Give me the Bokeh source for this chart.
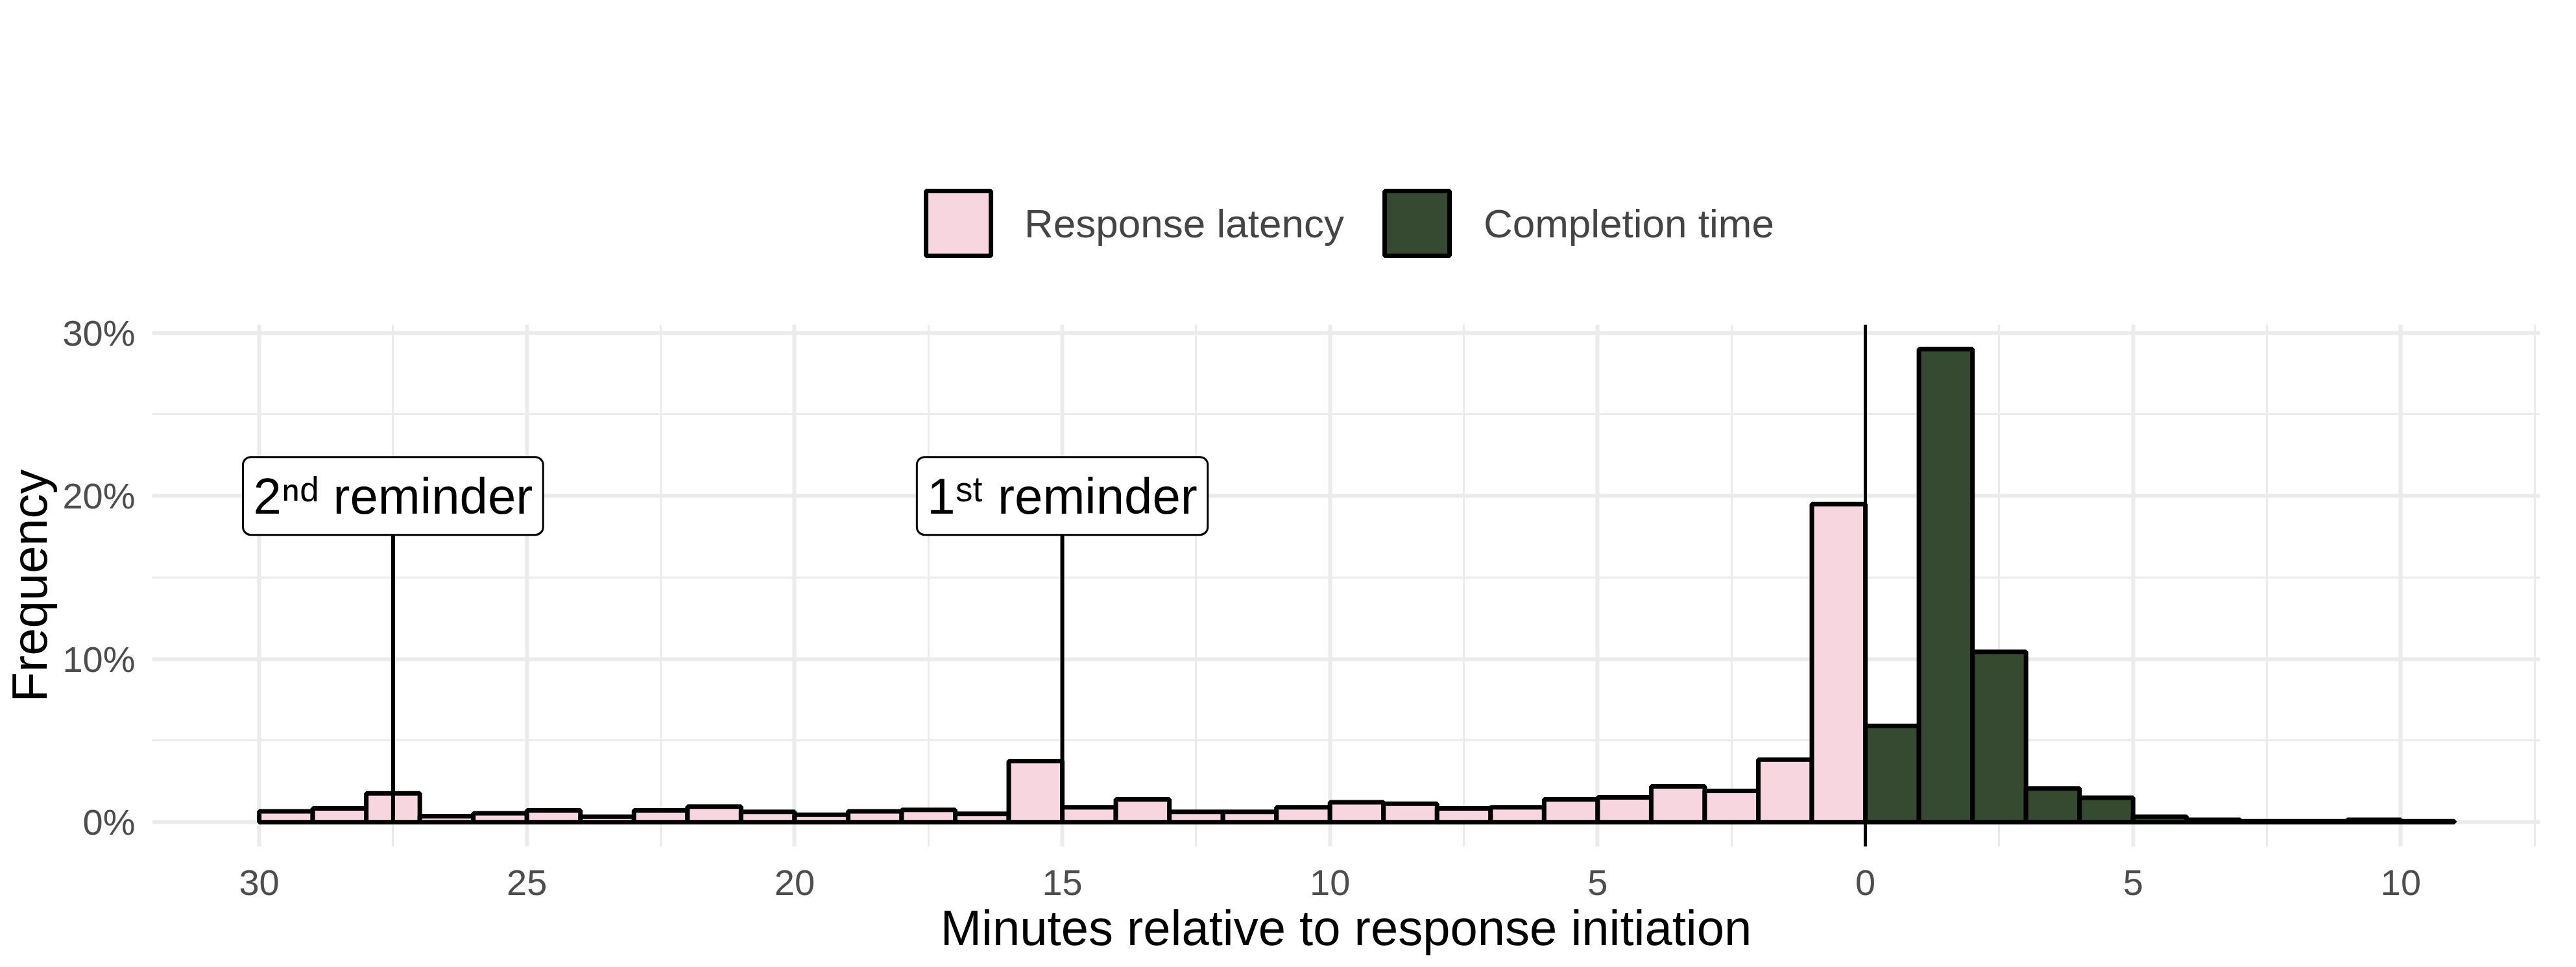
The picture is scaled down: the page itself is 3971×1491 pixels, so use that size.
from bokeh.plotting import figure
from bokeh.models import Legend, LegendItem, Span, Label, FixedTicker, ColumnDataSource
from bokeh.embed import file_html
from bokeh.resources import INLINE

# Response latency: minutes before initiation (bin left edges -30..-1)
lat_left = list(range(-30, 0))
lat_pct = [0.67, 0.85, 1.77, 0.37, 0.55, 0.73, 0.34, 0.73, 0.95, 0.64,
           0.46, 0.67, 0.76, 0.52, 3.75, 0.91, 1.4, 0.64, 0.64, 0.91,
           1.22, 1.13, 0.85, 0.91, 1.4, 1.52, 2.2, 1.92, 3.84, 19.5]
# Completion time: minutes after initiation (bin left edges 0..10)
comp_left = list(range(0, 11))
comp_pct = [5.9, 29.0, 10.45, 2.07, 1.5, 0.34, 0.15, 0.06, 0.06, 0.15, 0.06]

x_ticks = [-30, -25, -20, -15, -10, -5, 0, 5, 10]
x_tick_labels = ["30", "25", "20", "15", "10", "5", "0", "5", "10"]
x_minor = [-27.5, -22.5, -17.5, -12.5, -7.5, -2.5, 2.5, 7.5, 12.5]
y_ticks = [0, 10, 20, 30]
y_tick_labels = ["0%", "10%", "20%", "30%"]
reminders = [(-27.5, "2ⁿᵈ reminder"), (-15, "1ˢᵗ reminder")]

FONT = "Liberation Sans"
p = figure(width=3955, height=1475, output_backend="svg", toolbar_location=None,
           x_range=(-32.0, 12.6), y_range=(-1.5, 30.5),
           min_border_left=40, min_border_right=40, min_border_top=0, min_border_bottom=30)
p.outline_line_color = None
p.background_fill_color = "white"

src1 = ColumnDataSource(dict(l=lat_left, r=[v + 1 for v in lat_left], t=lat_pct))
src2 = ColumnDataSource(dict(l=comp_left, r=[v + 1 for v in comp_left], t=comp_pct))
r1 = p.quad(left="l", right="r", top="t", bottom=0, source=src1,
            fill_color="#f7d6df", line_color="black", line_width=7)
r2 = p.quad(left="l", right="r", top="t", bottom=0, source=src2,
            fill_color="#364a32", line_color="black", line_width=7)

p.add_layout(Span(location=0, dimension="height", line_color="black", line_width=5))

for x, txt in reminders:
    p.segment(x0=[x], y0=[0], x1=[x], y1=[19.5], line_color="black", line_width=6)
    p.add_layout(Label(x=x, y=20, text=txt, text_align="center", text_baseline="middle",
                       text_font=FONT, text_font_size="78px", text_color="black",
                       background_fill_color="white", border_line_color="black",
                       border_line_width=3, padding=16, border_radius=12))

p.xaxis.ticker = FixedTicker(ticks=x_ticks, minor_ticks=x_minor)
p.xaxis.major_label_overrides = dict(zip(x_ticks, x_tick_labels))
p.yaxis.ticker = FixedTicker(ticks=y_ticks, minor_ticks=[5, 15, 25])
p.yaxis.major_label_overrides = dict(zip(y_ticks, y_tick_labels))
for ax in (p.xaxis, p.yaxis):
    ax.axis_line_color = None
    ax.major_tick_line_color = None
    ax.minor_tick_line_color = None
    ax.major_label_text_font = FONT
    ax.major_label_text_font_size = "56px"
    ax.major_label_text_color = "#4d4d4d"
    ax.axis_label_text_font = FONT
    ax.axis_label_text_font_size = "76px"
    ax.axis_label_text_font_style = "normal"
    ax.axis_label_text_color = "black"
p.xaxis.axis_label = "Minutes relative to response initiation"
p.yaxis.axis_label = "Frequency"
p.xaxis.major_label_standoff = 30
p.yaxis.major_label_standoff = 20

p.xgrid.grid_line_color = "#ebebeb"
p.xgrid.grid_line_width = 6
p.xgrid.minor_grid_line_color = "#ebebeb"
p.xgrid.minor_grid_line_width = 3
p.ygrid.grid_line_color = "#ebebeb"
p.ygrid.grid_line_width = 6
p.ygrid.minor_grid_line_color = "#ebebeb"
p.ygrid.minor_grid_line_width = 3

legend = Legend(items=[LegendItem(label="Response latency", renderers=[r1]),
                       LegendItem(label="Completion time", renderers=[r2])],
                orientation="horizontal", location="center",
                glyph_width=125, glyph_height=125, label_text_font=FONT,
                label_text_font_size="62px", border_line_color=None,
                spacing=50, label_standoff=40, margin=0, padding=10)
p.add_layout(legend, "above")

open("out.html", "w").write(file_html(p, INLINE))
